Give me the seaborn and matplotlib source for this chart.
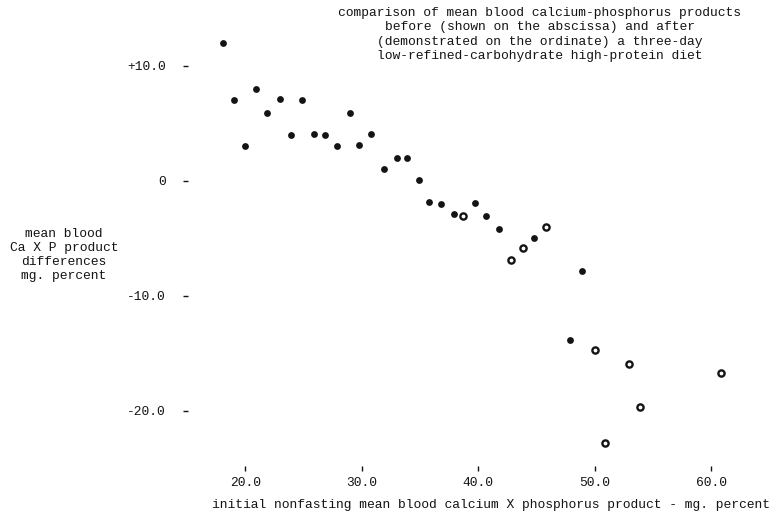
import matplotlib
matplotlib.use("Agg")
import matplotlib.pyplot as plt
import seaborn as sns
import pandas as pd

# initial nonfasting mean blood Ca x P product (abscissa)
before_product = [18.1, 19.0, 20.0, 20.9, 21.9, 23.0, 23.9, 24.9, 25.9, 26.8,
                  27.9, 29.0, 29.8, 30.8, 31.9, 33.0, 33.9, 34.9, 35.8, 36.8,
                  37.9, 38.7, 39.7, 40.7, 41.8, 42.8, 43.8, 44.8, 45.8, 48.9,
                  47.9, 50.0, 52.9, 53.9, 50.9, 60.8]
# mean blood Ca x P product differences (ordinate)
product_diff = [12.0, 7.0, 3.0, 8.0, 5.9, 7.1, 4.0, 7.0, 4.1, 4.0,
                3.0, 5.9, 3.1, 4.1, 1.0, 2.0, 2.0, 0.1, -1.8, -2.0,
                -2.9, -3.1, -1.9, -3.1, -4.2, -6.9, -5.8, -5.0, -4.0, -7.8,
                -13.8, -14.7, -15.9, -19.7, -22.8, -16.7]
marker_kind = ["filled"] * 21 + ["open", "filled", "filled", "filled", "open",
               "open", "filled", "open", "filled", "filled", "open", "open",
               "open", "open", "open"]

x_ticks = [20, 30, 40, 50, 60]
x_tick_labels = ["20.0", "30.0", "40.0", "50.0", "60.0"]
y_ticks = [10, 0, -10, -20]
y_tick_labels = ["+10.0", "0", "-10.0", "-20.0"]

title_text = ("comparison of mean blood calcium-phosphorus products\n"
              "before (shown on the abscissa) and after\n"
              "(demonstrated on the ordinate) a three-day\n"
              "low-refined-carbohydrate high-protein diet")
y_label_text = "mean blood\nCa X P product\ndifferences\nmg. percent"
x_label_text = "initial nonfasting mean blood calcium X phosphorus product - mg. percent"

df = pd.DataFrame({"before": before_product, "diff": product_diff, "kind": marker_kind})

sns.set_theme(style="white")
plt.rcParams["font.family"] = ["Liberation Mono", "DejaVu Sans Mono"]
FS = 9.4
INK = "#141414"

W, H = 771, 523
fig = plt.figure(figsize=(W / 100, H / 100), dpi=100)
ax = fig.add_axes([188 / W, (H - 466) / H, 557 / W, 441 / H])

sns.scatterplot(data=df[df.kind == "filled"], x="before", y="diff", ax=ax,
                color=INK, s=24, linewidth=0, legend=False)
sns.scatterplot(data=df[df.kind == "open"], x="before", y="diff", ax=ax,
                facecolor="white", edgecolor=INK, s=20, linewidth=1.7, legend=False)

ax.set_xlim(15.08, 62.89)
ax.set_ylim(-24.8, 13.55)
sns.despine(ax=ax, left=True, bottom=True)
ax.set_xticks(x_ticks)
ax.set_xticklabels(x_tick_labels, fontsize=FS, color=INK)
ax.set_yticks(y_ticks)
ax.set_yticklabels(y_tick_labels, fontsize=FS, color=INK)
ax.tick_params(axis="x", direction="out", length=3.6, width=1.0, color=INK, pad=4.5, bottom=True)
ax.tick_params(axis="y", direction="out", length=3.6, width=1.0, color=INK, pad=12.5, left=True)
ax.set_xlabel("")
ax.set_ylabel("")
ax.grid(False)

fig.text(540 / W, 1 - 7 / H, title_text, ha="center", va="top", fontsize=FS,
         color=INK, linespacing=1.25)
fig.text(64 / W, 1 - 255 / H, y_label_text, ha="center", va="center", fontsize=FS,
         color=INK, linespacing=1.25)
fig.text(212 / W, 1 - 505 / H, x_label_text, ha="left", va="center", fontsize=FS,
         color=INK)

fig.savefig("out.png", dpi=100)
